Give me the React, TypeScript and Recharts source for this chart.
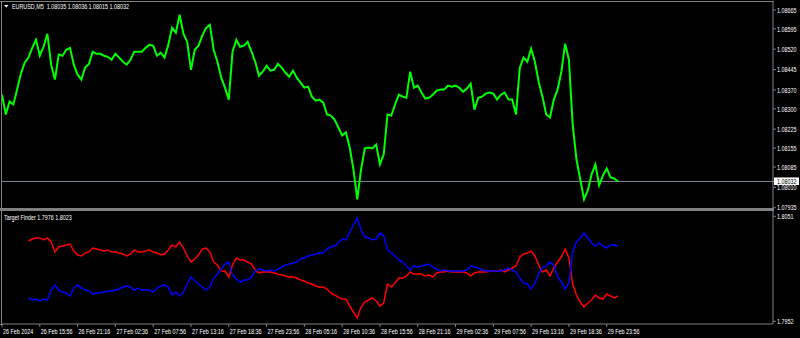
import React from 'react';
import { LineChart, Line, XAxis, YAxis, ReferenceLine } from 'recharts';

// EURUSD M5 closes, one point every ~32 minutes (10 points between time labels)
const priceValues = [
  1.08352, 1.08279, 1.08327, 1.08316, 1.08371, 1.08430, 1.08470, 1.08489, 1.08525, 1.08555,
  1.08496, 1.08529, 1.08577, 1.08463, 1.08408, 1.08500, 1.08496, 1.08518, 1.08525, 1.08463,
  1.08426, 1.08408, 1.08452, 1.08466, 1.08511, 1.08503, 1.08503, 1.08496, 1.08492, 1.08481,
  1.08503, 1.08489, 1.08474, 1.08463, 1.08481, 1.08511, 1.08511, 1.08511, 1.08525, 1.08536,
  1.08533, 1.08496, 1.08507, 1.08489, 1.08536, 1.08599, 1.08581, 1.08647, 1.08577, 1.08547,
  1.08444, 1.08518, 1.08533, 1.08570, 1.08599, 1.08610, 1.08518, 1.08474, 1.08415, 1.08378,
  1.08334, 1.08511, 1.08555, 1.08529, 1.08533, 1.08547, 1.08511, 1.08474, 1.08422, 1.08437,
  1.08459, 1.08441, 1.08444, 1.08466, 1.08452, 1.08433, 1.08419, 1.08441, 1.08415, 1.08397,
  1.08378, 1.08382, 1.08345, 1.08330, 1.08334, 1.08323, 1.08279, 1.08275, 1.08260, 1.08231,
  1.08202, 1.08213, 1.08157, 1.08076, 1.07966, 1.08076, 1.08154, 1.08157, 1.08154, 1.08168,
  1.08095, 1.08132, 1.08279, 1.08275, 1.08316, 1.08352, 1.08345, 1.08341, 1.08437, 1.08378,
  1.08386, 1.08360, 1.08338, 1.08341, 1.08352, 1.08367, 1.08371, 1.08371, 1.08386, 1.08382,
  1.08386, 1.08378, 1.08363, 1.08375, 1.08393, 1.08297, 1.08341, 1.08345, 1.08356, 1.08360,
  1.08356, 1.08334, 1.08352, 1.08360, 1.08334, 1.08334, 1.08279, 1.08452, 1.08489, 1.08474,
  1.08522, 1.08474, 1.08400, 1.08345, 1.08279, 1.08268, 1.08334, 1.08371, 1.08437, 1.08540,
  1.08481, 1.08242, 1.08113, 1.08040, 1.07966, 1.07999, 1.08058, 1.08095, 1.08018, 1.08054,
  1.08080, 1.08047, 1.08043, 1.08032,
];

// Target Finder buffers start a bit later than the price
const IND_START = 7;

const redValues = [
  1.80277, 1.80296, 1.80306, 1.80306, 1.80287, 1.80306, 1.80268, 1.80174, 1.80221, 1.80230,
  1.80240, 1.80249, 1.80183, 1.80145, 1.80136, 1.80164, 1.80174, 1.80211, 1.80202, 1.80193,
  1.80183, 1.80193, 1.80174, 1.80174, 1.80164, 1.80155, 1.80136, 1.80155, 1.80193, 1.80174,
  1.80174, 1.80183, 1.80193, 1.80174, 1.80164, 1.80145, 1.80155, 1.80193, 1.80240, 1.80221,
  1.80268, 1.80211, 1.80136, 1.80079, 1.80108, 1.80145, 1.80202, 1.80211, 1.80174, 1.80079,
  1.80051, 1.79994, 1.79994, 1.79938, 1.80051, 1.80117, 1.80098, 1.80098, 1.80079, 1.80060,
  1.80004, 1.79976, 1.79985, 1.79985, 1.79985, 1.79976, 1.79966, 1.79957, 1.79947, 1.79938,
  1.79938, 1.79928, 1.79910, 1.79900, 1.79881, 1.79872, 1.79853, 1.79844, 1.79844, 1.79825,
  1.79787, 1.79768, 1.79749, 1.79730, 1.79730, 1.79664, 1.79608, 1.79551, 1.79655, 1.79702,
  1.79721, 1.79740, 1.79712, 1.79664, 1.79693, 1.79872, 1.79844, 1.79881, 1.79928, 1.79928,
  1.79947, 1.79985, 1.79966, 1.79966, 1.79966, 1.79947, 1.79957, 1.79938, 1.79976, 1.79985,
  1.79985, 1.79994, 1.79985, 1.79985, 1.79985, 1.79985, 1.79976, 1.79947, 1.79976, 1.79985,
  1.79985, 1.79985, 1.79994, 1.79994, 1.79994, 1.80004, 1.79985, 1.80004, 1.80023, 1.80042,
  1.80126, 1.80155, 1.80164, 1.80183, 1.80136, 1.80051, 1.79985, 1.80004, 1.79947, 1.80023,
  1.80079, 1.80126, 1.80202, 1.80117, 1.79872, 1.79768, 1.79702, 1.79655, 1.79693, 1.79721,
  1.79768, 1.79740, 1.79730, 1.79778, 1.79759, 1.79740, 1.79760,
];

const blueValues = [
  1.79740, 1.79721, 1.79730, 1.79712, 1.79730, 1.79721, 1.79815, 1.79862, 1.79815, 1.79796,
  1.79787, 1.79759, 1.79834, 1.79862, 1.79834, 1.79815, 1.79806, 1.79778, 1.79787, 1.79787,
  1.79796, 1.79806, 1.79806, 1.79815, 1.79825, 1.79844, 1.79853, 1.79844, 1.79815, 1.79834,
  1.79815, 1.79815, 1.79815, 1.79796, 1.79834, 1.79853, 1.79862, 1.79844, 1.79768, 1.79796,
  1.79759, 1.79796, 1.79872, 1.79938, 1.79900, 1.79872, 1.79844, 1.79815, 1.79844, 1.79928,
  1.79966, 1.80013, 1.80060, 1.80079, 1.79957, 1.79919, 1.79891, 1.79910, 1.79910, 1.79938,
  1.79994, 1.80013, 1.80004, 1.79994, 1.80004, 1.79994, 1.80013, 1.80032, 1.80051, 1.80060,
  1.80070, 1.80079, 1.80108, 1.80117, 1.80136, 1.80145, 1.80155, 1.80164, 1.80164, 1.80202,
  1.80221, 1.80230, 1.80259, 1.80296, 1.80287, 1.80362, 1.80428, 1.80494, 1.80381, 1.80315,
  1.80306, 1.80287, 1.80296, 1.80353, 1.80325, 1.80193, 1.80164, 1.80136, 1.80098, 1.80079,
  1.80042, 1.80004, 1.80042, 1.80032, 1.80042, 1.80051, 1.80060, 1.80032, 1.80013, 1.79994,
  1.80004, 1.79994, 1.79994, 1.79994, 1.79994, 1.79994, 1.80004, 1.80042, 1.80032, 1.80023,
  1.80004, 1.79994, 1.79994, 1.79994, 1.79994, 1.79994, 1.80004, 1.80023, 1.80004, 1.79985,
  1.79928, 1.79881, 1.79872, 1.79825, 1.79881, 1.79966, 1.80032, 1.80042, 1.80079, 1.80051,
  1.79938, 1.79891, 1.79825, 1.79881, 1.80174, 1.80268, 1.80306, 1.80353, 1.80306, 1.80259,
  1.80230, 1.80259, 1.80230, 1.80211, 1.80240, 1.80240, 1.80230,
];

const timeLabels = [
  '26 Feb 2024', '26 Feb 15:56', '26 Feb 21:16', '27 Feb 02:36', '27 Feb 07:56',
  '27 Feb 13:16', '27 Feb 18:36', '27 Feb 23:56', '28 Feb 05:16', '28 Feb 10:36',
  '28 Feb 15:56', '28 Feb 21:16', '29 Feb 02:36', '29 Feb 07:56', '29 Feb 13:16',
  '29 Feb 18:36', '29 Feb 23:56',
];
const LABEL_STEP = 10;

const BID = 1.08032;
const priceTicks = [
  1.08665, 1.08595, 1.08520, 1.08445, 1.08370, 1.08300, 1.08225, 1.08155, 1.08085, 1.08010, 1.07935, BID,
];
const indTicks = [1.8051, 1.7952];

const mainData = priceValues.map((p, i) => ({ i, price: p }));
const indData = priceValues.map((_, i) => ({
  i,
  red: i >= IND_START ? redValues[i - IND_START] : null,
  blue: i >= IND_START ? blueValues[i - IND_START] : null,
}));
const xTicks = timeLabels.map((_, k) => k * LABEL_STEP);

const X_MAX = 204;
const FRAME = '#808080';
const TXT = '#ffffff';
const FONT = '"Liberation Sans", Arial, sans-serif';
const FS = 7.5;
const SX = 0.72; // MT4 text is narrow in this screenshot

const PriceTick = (props: any) => {
  const { x, y, payload } = props;
  const v: number = payload.value;
  const isBid = Math.abs(v - BID) < 1e-7;
  return (
    <g transform={`translate(${x},${y})`}>
      {isBid && <rect x={-3} y={-4} width={25} height={7.5} fill="#ffffff" />}
      <text x={0} y={0} dy={2.7} transform={`scale(${SX},1)`} fontFamily={FONT} fontSize={FS} fill={isBid ? '#000000' : TXT}>
        {v.toFixed(5)}
      </text>
    </g>
  );
};

const IndTick = (props: any) => {
  const { x, y, payload } = props;
  return (
    <g transform={`translate(${x},${y})`}>
      <text x={0} y={0} dy={2.7} transform={`scale(${SX},1)`} fontFamily={FONT} fontSize={FS} fill={TXT}>
        {payload.value.toFixed(4)}
      </text>
    </g>
  );
};

const TimeTick = (props: any) => {
  const { x, y, payload } = props;
  const label = timeLabels[Math.round(payload.value / LABEL_STEP)];
  return (
    <g transform={`translate(${x + 1},${y})`}>
      <text x={0} y={0} dy={5.6} transform={`scale(${SX},1)`} fontFamily={FONT} fontSize={FS} fill={TXT}>
        {label}
      </text>
    </g>
  );
};

export default function App() {
  return (
    <div style={{ position: 'absolute', left: 0, top: 0, width: 800, height: 338, background: '#000', overflow: 'hidden' }}>
      {/* price window (svg a bit taller so the lowest price label is not clipped) */}
      <div style={{ position: 'absolute', left: 0, top: 0 }}>
        <LineChart width={800} height={216} data={mainData} margin={{ top: 1, right: 0, bottom: 8, left: 2 }}>
          <XAxis type="number" dataKey="i" domain={[0, X_MAX]} hide />
          <YAxis
            orientation="right"
            width={27}
            domain={[1.07934, 1.08698]}
            ticks={priceTicks}
            interval={0}
            tickSize={3}
            tickMargin={1}
            axisLine={{ stroke: FRAME }}
            tickLine={{ stroke: FRAME }}
            tick={<PriceTick />}
          />
          <ReferenceLine y={BID} stroke="#778899" strokeWidth={1} />
          <Line type="linear" dataKey="price" stroke="#00ff00" strokeWidth={2} dot={false} isAnimationActive={false} />
        </LineChart>
      </div>

      {/* indicator window */}
      <div style={{ position: 'absolute', left: 0, top: 211 }}>
        <LineChart width={800} height={127} data={indData} margin={{ top: 0, right: 0, bottom: 0, left: 2 }}>
          <XAxis
            type="number"
            dataKey="i"
            domain={[0, X_MAX]}
            ticks={xTicks}
            interval={0}
            height={14}
            tickSize={3}
            tickMargin={1}
            axisLine={{ stroke: FRAME }}
            tickLine={{ stroke: FRAME }}
            tick={<TimeTick />}
          />
          <YAxis
            orientation="right"
            width={27}
            domain={[1.79495, 1.8056]}
            ticks={indTicks}
            interval={0}
            tickSize={3}
            tickMargin={1}
            axisLine={{ stroke: FRAME }}
            tickLine={{ stroke: FRAME }}
            tick={<IndTick />}
          />
          <Line type="linear" dataKey="red" stroke="#ff0000" strokeWidth={1.5} dot={false} isAnimationActive={false} />
          <Line type="linear" dataKey="blue" stroke="#0000ff" strokeWidth={1.5} dot={false} isAnimationActive={false} />
        </LineChart>
      </div>

      {/* window frames and titles */}
      <svg width={800} height={338} style={{ position: 'absolute', left: 0, top: 0, pointerEvents: 'none' }}>
        <rect x={0} y={1} width={774} height={1} fill={FRAME} />
        <rect x={1} y={1} width={1} height={324} fill={FRAME} />
        <rect x={0} y={208} width={774} height={3} fill={FRAME} />
        <rect x={0} y={324} width={3} height={1} fill={FRAME} />
        <polygon points="4,5 8.5,5 6.25,7.5" fill={TXT} />
        <g transform="translate(12,8.7)">
          <text x={0} y={0} transform={`scale(${SX},1)`} fontFamily={FONT} fontSize={FS} fill={TXT} style={{ whiteSpace: 'pre' }}>
            {'EURUSD,M5  1.08035 1.08036 1.08015 1.08032'}
          </text>
        </g>
        <g transform="translate(4,219.7)">
          <text x={0} y={0} transform={`scale(${SX},1)`} fontFamily={FONT} fontSize={FS} fill={TXT} style={{ whiteSpace: 'pre' }}>
            {'Target Finder 1.7976 1.8023'}
          </text>
        </g>
      </svg>
    </div>
  );
}
